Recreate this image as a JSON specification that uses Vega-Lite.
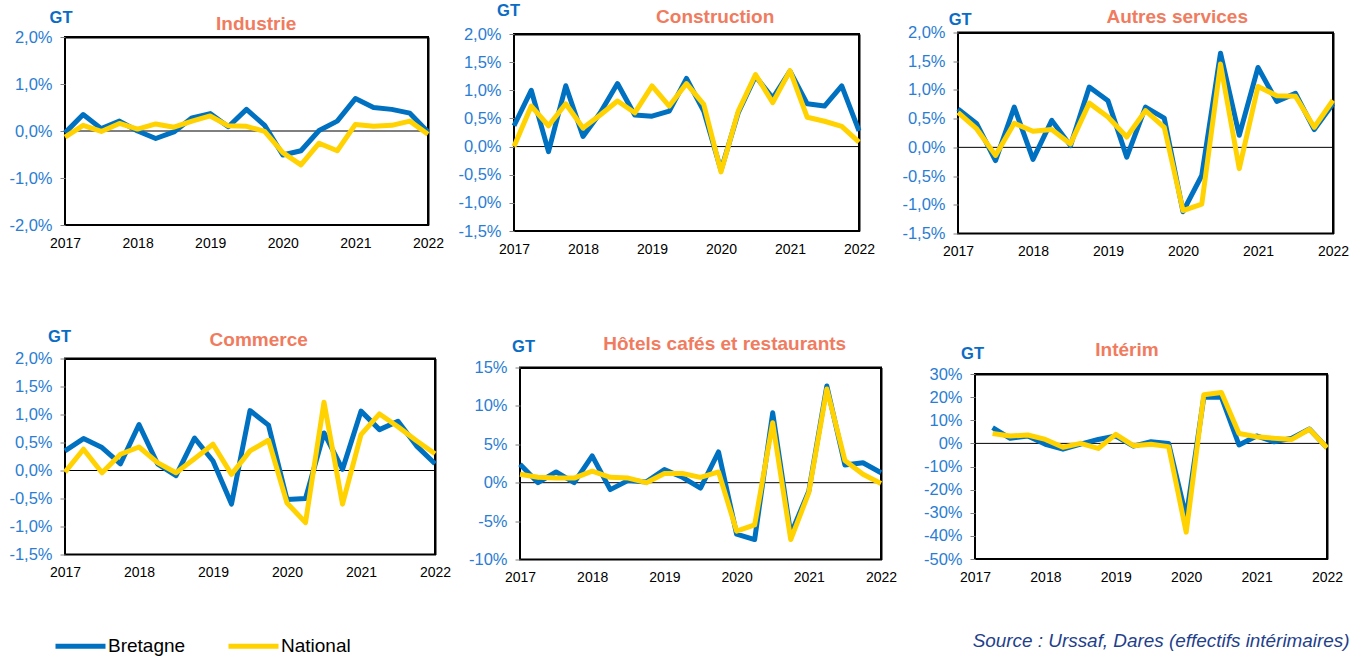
{
  "$schema": "https://vega.github.io/schema/vega-lite/v6.json",
  "autosize": {"type": "pad"},
  "padding": {"left": 6, "top": 1.5, "right": 0, "bottom": 0},
  "background": "white",
  "config": {
    "font": "Liberation Sans",
    "view": {"stroke": "black", "strokeWidth": 2},
    "axisLeft": {"labelFontSize": 16.5, "labelColor": "#2a7dd2", "labelFont": "Liberation Sans", "labelPadding": 8, "ticks": true, "tickSize": 5, "tickColor": "#808080", "domain": false, "grid": true, "gridColor": "#d4d4d4", "gridWidth": 1, "titleAngle": 0, "titleAlign": "center", "titleBaseline": "alphabetic", "titleFontSize": 16.5, "titleFontWeight": "bold", "titleColor": "#0a6cc4", "titleFont": "Liberation Sans"},
    "axisBottom": {"labelFontSize": 14, "labelColor": "black", "labelFont": "Liberation Sans", "labelPadding": 22, "labelBaseline": "alphabetic", "labelFlush": false, "ticks": false, "domain": false, "grid": true, "gridColor": "#a6a6a6", "gridWidth": 1},
    "axisTop": {"labels": false, "ticks": false, "grid": false, "domain": true, "domainColor": "black", "domainWidth": 2, "titleAngle": 0, "titleAlign": "center", "titleBaseline": "alphabetic", "titleFontSize": 19, "titleFontWeight": "bold", "titleColor": "#f07b5e", "titleFont": "Liberation Sans"},
    "axisRight": {"labels": false, "ticks": false, "grid": false, "domain": true, "domainColor": "black", "domainWidth": 2}
  },
  "datasets": {
    "ind": [
      {"t": 2017, "Bretagne": -0.04, "National": -0.13},
      {"t": 2017.25, "Bretagne": 0.35, "National": 0.12},
      {"t": 2017.5, "Bretagne": 0.05, "National": -0.01},
      {"t": 2017.75, "Bretagne": 0.21, "National": 0.16},
      {"t": 2018, "Bretagne": 0.0, "National": 0.04},
      {"t": 2018.25, "Bretagne": -0.16, "National": 0.15},
      {"t": 2018.5, "Bretagne": -0.02, "National": 0.08},
      {"t": 2018.75, "Bretagne": 0.28, "National": 0.21},
      {"t": 2019, "Bretagne": 0.37, "National": 0.32},
      {"t": 2019.25, "Bretagne": 0.09, "National": 0.11},
      {"t": 2019.5, "Bretagne": 0.46, "National": 0.10},
      {"t": 2019.75, "Bretagne": 0.12, "National": -0.01},
      {"t": 2020, "Bretagne": -0.51, "National": -0.46},
      {"t": 2020.25, "Bretagne": -0.42, "National": -0.72},
      {"t": 2020.5, "Bretagne": 0.01, "National": -0.26},
      {"t": 2020.75, "Bretagne": 0.21, "National": -0.42},
      {"t": 2021, "Bretagne": 0.69, "National": 0.14},
      {"t": 2021.25, "Bretagne": 0.50, "National": 0.10},
      {"t": 2021.5, "Bretagne": 0.46, "National": 0.12},
      {"t": 2021.75, "Bretagne": 0.38, "National": 0.21},
      {"t": 2022, "Bretagne": -0.02, "National": -0.07}
    ],
    "con": [
      {"t": 2017, "Bretagne": 0.37, "National": 0.0},
      {"t": 2017.25, "Bretagne": 1.00, "National": 0.72},
      {"t": 2017.5, "Bretagne": -0.09, "National": 0.37},
      {"t": 2017.75, "Bretagne": 1.08, "National": 0.76},
      {"t": 2018, "Bretagne": 0.18, "National": 0.33},
      {"t": 2018.25, "Bretagne": 0.60, "National": 0.56},
      {"t": 2018.5, "Bretagne": 1.12, "National": 0.81},
      {"t": 2018.75, "Bretagne": 0.56, "National": 0.60},
      {"t": 2019, "Bretagne": 0.54, "National": 1.08},
      {"t": 2019.25, "Bretagne": 0.63, "National": 0.72},
      {"t": 2019.5, "Bretagne": 1.21, "National": 1.12},
      {"t": 2019.75, "Bretagne": 0.63, "National": 0.75},
      {"t": 2020, "Bretagne": -0.42, "National": -0.45},
      {"t": 2020.25, "Bretagne": 0.60, "National": 0.63},
      {"t": 2020.5, "Bretagne": 1.25, "National": 1.28},
      {"t": 2020.75, "Bretagne": 0.86, "National": 0.78},
      {"t": 2021, "Bretagne": 1.34, "National": 1.35},
      {"t": 2021.25, "Bretagne": 0.76, "National": 0.52},
      {"t": 2021.5, "Bretagne": 0.72, "National": 0.45},
      {"t": 2021.75, "Bretagne": 1.08, "National": 0.36},
      {"t": 2022, "Bretagne": 0.28, "National": 0.08}
    ],
    "aut": [
      {"t": 2017, "Bretagne": 0.67, "National": 0.61},
      {"t": 2017.25, "Bretagne": 0.41, "National": 0.32},
      {"t": 2017.5, "Bretagne": -0.23, "National": -0.14},
      {"t": 2017.75, "Bretagne": 0.70, "National": 0.42},
      {"t": 2018, "Bretagne": -0.21, "National": 0.28},
      {"t": 2018.25, "Bretagne": 0.47, "National": 0.31},
      {"t": 2018.5, "Bretagne": 0.03, "National": 0.06},
      {"t": 2018.75, "Bretagne": 1.05, "National": 0.77},
      {"t": 2019, "Bretagne": 0.81, "National": 0.53},
      {"t": 2019.25, "Bretagne": -0.17, "National": 0.18},
      {"t": 2019.5, "Bretagne": 0.70, "National": 0.64},
      {"t": 2019.75, "Bretagne": 0.51, "National": 0.35},
      {"t": 2020, "Bretagne": -1.12, "National": -1.10},
      {"t": 2020.25, "Bretagne": -0.49, "National": -0.99},
      {"t": 2020.5, "Bretagne": 1.64, "National": 1.45},
      {"t": 2020.75, "Bretagne": 0.21, "National": -0.37},
      {"t": 2021, "Bretagne": 1.39, "National": 1.06},
      {"t": 2021.25, "Bretagne": 0.80, "National": 0.90},
      {"t": 2021.5, "Bretagne": 0.94, "National": 0.89},
      {"t": 2021.75, "Bretagne": 0.31, "National": 0.35},
      {"t": 2022, "Bretagne": 0.76, "National": 0.82}
    ],
    "com": [
      {"t": 2017, "Bretagne": 0.35, "National": -0.03},
      {"t": 2017.25, "Bretagne": 0.57, "National": 0.38},
      {"t": 2017.5, "Bretagne": 0.41, "National": -0.04},
      {"t": 2017.75, "Bretagne": 0.12, "National": 0.29},
      {"t": 2018, "Bretagne": 0.82, "National": 0.42},
      {"t": 2018.25, "Bretagne": 0.12, "National": 0.14},
      {"t": 2018.5, "Bretagne": -0.09, "National": -0.04},
      {"t": 2018.75, "Bretagne": 0.58, "National": 0.21},
      {"t": 2019, "Bretagne": 0.17, "National": 0.47},
      {"t": 2019.25, "Bretagne": -0.60, "National": -0.07},
      {"t": 2019.5, "Bretagne": 1.07, "National": 0.35},
      {"t": 2019.75, "Bretagne": 0.81, "National": 0.54},
      {"t": 2020, "Bretagne": -0.52, "National": -0.58},
      {"t": 2020.25, "Bretagne": -0.50, "National": -0.93},
      {"t": 2020.5, "Bretagne": 0.67, "National": 1.22},
      {"t": 2020.75, "Bretagne": 0.02, "National": -0.60},
      {"t": 2021, "Bretagne": 1.06, "National": 0.64},
      {"t": 2021.25, "Bretagne": 0.73, "National": 1.01},
      {"t": 2021.5, "Bretagne": 0.88, "National": 0.78},
      {"t": 2021.75, "Bretagne": 0.44, "National": 0.53},
      {"t": 2022, "Bretagne": 0.12, "National": 0.30}
    ],
    "hot": [
      {"t": 2017, "Bretagne": 2.4, "National": 1.1},
      {"t": 2017.25, "Bretagne": 0.0, "National": 0.7},
      {"t": 2017.5, "Bretagne": 1.4, "National": 0.6},
      {"t": 2017.75, "Bretagne": 0.0, "National": 0.6},
      {"t": 2018, "Bretagne": 3.5, "National": 1.5},
      {"t": 2018.25, "Bretagne": -0.9, "National": 0.7},
      {"t": 2018.5, "Bretagne": 0.3, "National": 0.6},
      {"t": 2018.75, "Bretagne": 0.1, "National": 0.0},
      {"t": 2019, "Bretagne": 1.7, "National": 1.2},
      {"t": 2019.25, "Bretagne": 0.7, "National": 1.2},
      {"t": 2019.5, "Bretagne": -0.7, "National": 0.7},
      {"t": 2019.75, "Bretagne": 4.0, "National": 1.4},
      {"t": 2020, "Bretagne": -6.7, "National": -6.3},
      {"t": 2020.25, "Bretagne": -7.4, "National": -5.5},
      {"t": 2020.5, "Bretagne": 9.1, "National": 7.8},
      {"t": 2020.75, "Bretagne": -6.7, "National": -7.4},
      {"t": 2021, "Bretagne": -1.1, "National": -1.3},
      {"t": 2021.25, "Bretagne": 12.6, "National": 12.2},
      {"t": 2021.5, "Bretagne": 2.3, "National": 2.9},
      {"t": 2021.75, "Bretagne": 2.6, "National": 1.1},
      {"t": 2022, "Bretagne": 1.3, "National": -0.1}
    ],
    "int": [
      {"t": 2017.25, "Bretagne": 6.8, "National": 4.3},
      {"t": 2017.5, "Bretagne": 2.2, "National": 3.2},
      {"t": 2017.75, "Bretagne": 3.2, "National": 3.6},
      {"t": 2018, "Bretagne": -0.4, "National": 1.7},
      {"t": 2018.25, "Bretagne": -2.5, "National": -1.7},
      {"t": 2018.5, "Bretagne": -0.3, "National": 0.0},
      {"t": 2018.75, "Bretagne": 1.7, "National": -2.2},
      {"t": 2019, "Bretagne": 3.2, "National": 3.9},
      {"t": 2019.25, "Bretagne": -1.2, "National": -1.0},
      {"t": 2019.5, "Bretagne": 0.7, "National": -0.4},
      {"t": 2019.75, "Bretagne": 0.0, "National": -1.4},
      {"t": 2020, "Bretagne": -31.9, "National": -38.4},
      {"t": 2020.25, "Bretagne": 20.0, "National": 21.0},
      {"t": 2020.5, "Bretagne": 20.0, "National": 22.0},
      {"t": 2020.75, "Bretagne": -0.7, "National": 4.3},
      {"t": 2021, "Bretagne": 3.2, "National": 2.9},
      {"t": 2021.25, "Bretagne": 0.7, "National": 2.2},
      {"t": 2021.5, "Bretagne": 2.2, "National": 1.7},
      {"t": 2021.75, "Bretagne": 6.2, "National": 6.1},
      {"t": 2022, "Bretagne": -1.9, "National": -1.9}
    ]
  },
  "title": {"text": "Source : Urssaf, Dares (effectifs intérimaires)", "orient": "bottom", "anchor": "end", "fontSize": 18.9, "fontStyle": "italic", "fontWeight": "normal", "color": "#1f3f8c", "font": "Liberation Sans", "offset": -10, "baseline": "alphabetic"},
  "spacing": 63,
  "vconcat": [
    {
      "concat": [
        {
          "width": 363, "height": 188,
          "layer": [
            {
              "data": {"values": [{}]},
              "mark": {"type": "rule", "color": "black", "strokeWidth": 1},
              "encoding": {
                "x": {"datum": 2017, "type": "quantitative", "scale": {"domain": [2017, 2022], "nice": false, "zero": false}, "axis": {"orient": "top", "title": "Industrie", "titleX": 190.7, "titleY": -7.7}},
                "x2": {"datum": 2022},
                "y": {"datum": 0, "type": "quantitative", "scale": {"domain": [-2, 2], "nice": false, "zero": false}, "axis": {"orient": "right", "title": null, "minExtent": 20, "maxExtent": 20}}
              }
            },
            {
              "data": {"name": "ind"},
              "transform": [{"fold": ["Bretagne", "National"], "as": ["serie", "v"]}],
              "mark": {"type": "line", "strokeWidth": 5, "strokeJoin": "round"},
              "encoding": {
                "x": {"field": "t", "type": "quantitative", "scale": {"domain": [2017, 2022], "nice": false, "zero": false}, "axis": {"orient": "bottom", "title": null, "values": [2017, 2018, 2019, 2020, 2021, 2022], "format": "d", "labelFlush": false, "minExtent": 34, "gridOpacity": {"condition": {"test": "datum.value <= 2017 || datum.value >= 2022", "value": 0}, "value": 1}}},
                "y": {"field": "v", "type": "quantitative", "scale": {"domain": [-2, 2], "nice": false, "zero": false}, "axis": {"orient": "left", "title": "GT", "titleX": -4.5, "titleY": -15, "values": [-2, -1, 0, 1, 2], "labelExpr": "(datum.value < 0 ? '-' : '') + replace(format(abs(datum.value), '.1f'), '.', ',') + '%'", "minExtent": 58, "maxExtent": 58, "gridOpacity": {"condition": {"test": "datum.value >= 2 || datum.value <= -2", "value": 0}, "value": 1}}},
                "color": {"field": "serie", "type": "nominal", "scale": {"domain": ["Bretagne", "National"], "range": ["#0070C0", "#FFD200"]}, "legend": {"orient": "none", "legendX": -12, "legendY": 586, "direction": "horizontal", "title": null, "symbolType": "stroke", "symbolSize": 2500, "symbolStrokeWidth": 5, "labelFontSize": 19, "labelFont": "Liberation Sans", "labelColor": "black", "columnPadding": 32, "labelOffset": 0, "padding": 0}}
              }
            }
          ],
          "resolve": {"axis": {"x": "independent", "y": "independent"}}
        },
        {
          "width": 345, "height": 197,
          "layer": [
            {
              "data": {"values": [{}]},
              "mark": {"type": "rule", "color": "black", "strokeWidth": 1},
              "encoding": {
                "x": {"datum": 2017, "type": "quantitative", "scale": {"domain": [2017, 2022], "nice": false, "zero": false}, "axis": {"orient": "top", "title": "Construction", "titleX": 200.7, "titleY": -12}},
                "x2": {"datum": 2022},
                "y": {"datum": 0, "type": "quantitative", "scale": {"domain": [-1.5, 2], "nice": false, "zero": false}, "axis": {"orient": "right", "title": null, "minExtent": 20, "maxExtent": 20}}
              }
            },
            {
              "data": {"name": "con"},
              "transform": [{"fold": ["Bretagne", "National"], "as": ["serie", "v"]}],
              "mark": {"type": "line", "strokeWidth": 5, "strokeJoin": "round"},
              "encoding": {
                "x": {"field": "t", "type": "quantitative", "scale": {"domain": [2017, 2022], "nice": false, "zero": false}, "axis": {"orient": "bottom", "title": null, "values": [2017, 2018, 2019, 2020, 2021, 2022], "format": "d", "labelFlush": false, "minExtent": 31, "gridOpacity": {"condition": {"test": "datum.value <= 2017 || datum.value >= 2022", "value": 0}, "value": 1}}},
                "y": {"field": "v", "type": "quantitative", "scale": {"domain": [-1.5, 2], "nice": false, "zero": false}, "axis": {"orient": "left", "title": "GT", "titleX": -6, "titleY": -18.3, "values": [-1.5, -1, -0.5, 0, 0.5, 1, 1.5, 2], "labelExpr": "(datum.value < 0 ? '-' : '') + replace(format(abs(datum.value), '.1f'), '.', ',') + '%'", "minExtent": 64, "maxExtent": 64, "gridOpacity": {"condition": {"test": "datum.value >= 2 || datum.value <= -1.5", "value": 0}, "value": 1}}},
                "color": {"field": "serie", "type": "nominal", "scale": {"domain": ["Bretagne", "National"], "range": ["#0070C0", "#FFD200"]}, "legend": {"orient": "none", "legendX": -12, "legendY": 586, "direction": "horizontal", "title": null, "symbolType": "stroke", "symbolSize": 2500, "symbolStrokeWidth": 5, "labelFontSize": 19, "labelFont": "Liberation Sans", "labelColor": "black", "columnPadding": 32, "labelOffset": 0, "padding": 0}}
              }
            }
          ],
          "resolve": {"axis": {"x": "independent", "y": "independent"}}
        },
        {
          "width": 375, "height": 201,
          "layer": [
            {
              "data": {"values": [{}]},
              "mark": {"type": "rule", "color": "black", "strokeWidth": 1},
              "encoding": {
                "x": {"datum": 2017, "type": "quantitative", "scale": {"domain": [2017, 2022], "nice": false, "zero": false}, "axis": {"orient": "top", "title": "Autres services", "titleX": 218.7, "titleY": -10.3}},
                "x2": {"datum": 2022},
                "y": {"datum": 0, "type": "quantitative", "scale": {"domain": [-1.5, 2], "nice": false, "zero": false}, "axis": {"orient": "right", "title": null, "minExtent": 14, "maxExtent": 14}}
              }
            },
            {
              "data": {"name": "aut"},
              "transform": [{"fold": ["Bretagne", "National"], "as": ["serie", "v"]}],
              "mark": {"type": "line", "strokeWidth": 5, "strokeJoin": "round"},
              "encoding": {
                "x": {"field": "t", "type": "quantitative", "scale": {"domain": [2017, 2022], "nice": false, "zero": false}, "axis": {"orient": "bottom", "title": null, "values": [2017, 2018, 2019, 2020, 2021, 2022], "format": "d", "labelFlush": false, "minExtent": 30, "gridOpacity": {"condition": {"test": "datum.value <= 2017 || datum.value >= 2022", "value": 0}, "value": 1}}},
                "y": {"field": "v", "type": "quantitative", "scale": {"domain": [-1.5, 2], "nice": false, "zero": false}, "axis": {"orient": "left", "title": "GT", "titleX": 1.7, "titleY": -8.3, "values": [-1.5, -1, -0.5, 0, 0.5, 1, 1.5, 2], "labelExpr": "(datum.value < 0 ? '-' : '') + replace(format(abs(datum.value), '.1f'), '.', ',') + '%'", "minExtent": 77, "maxExtent": 77, "gridOpacity": {"condition": {"test": "datum.value >= 2 || datum.value <= -1.5", "value": 0}, "value": 1}}},
                "color": {"field": "serie", "type": "nominal", "scale": {"domain": ["Bretagne", "National"], "range": ["#0070C0", "#FFD200"]}, "legend": {"orient": "none", "legendX": -12, "legendY": 586, "direction": "horizontal", "title": null, "symbolType": "stroke", "symbolSize": 2500, "symbolStrokeWidth": 5, "labelFontSize": 19, "labelFont": "Liberation Sans", "labelColor": "black", "columnPadding": 32, "labelOffset": 0, "padding": 0}}
              }
            }
          ],
          "resolve": {"axis": {"x": "independent", "y": "independent"}}
        }
      ],
      "columns": 3,
      "align": "each",
      "center": true,
      "spacing": 0
    },
    {
      "concat": [
        {
          "width": 370, "height": 196,
          "layer": [
            {
              "data": {"values": [{}]},
              "mark": {"type": "rule", "color": "black", "strokeWidth": 1},
              "encoding": {
                "x": {"datum": 2017, "type": "quantitative", "scale": {"domain": [2017, 2022], "nice": false, "zero": false}, "axis": {"orient": "top", "title": "Commerce", "titleX": 193.2, "titleY": -12.7}},
                "x2": {"datum": 2022},
                "y": {"datum": 0, "type": "quantitative", "scale": {"domain": [-1.5, 2], "nice": false, "zero": false}, "axis": {"orient": "right", "title": null, "minExtent": 20, "maxExtent": 20}}
              }
            },
            {
              "data": {"name": "com"},
              "transform": [{"fold": ["Bretagne", "National"], "as": ["serie", "v"]}],
              "mark": {"type": "line", "strokeWidth": 5, "strokeJoin": "round"},
              "encoding": {
                "x": {"field": "t", "type": "quantitative", "scale": {"domain": [2017, 2022], "nice": false, "zero": false}, "axis": {"orient": "bottom", "title": null, "values": [2017, 2018, 2019, 2020, 2021, 2022], "format": "d", "labelFlush": false, "minExtent": 50, "gridOpacity": {"condition": {"test": "datum.value <= 2017 || datum.value >= 2022", "value": 0}, "value": 1}}},
                "y": {"field": "v", "type": "quantitative", "scale": {"domain": [-1.5, 2], "nice": false, "zero": false}, "axis": {"orient": "left", "title": "GT", "titleX": -6, "titleY": -16.7, "values": [-1.5, -1, -0.5, 0, 0.5, 1, 1.5, 2], "labelExpr": "(datum.value < 0 ? '-' : '') + replace(format(abs(datum.value), '.1f'), '.', ',') + '%'", "minExtent": 58, "maxExtent": 58, "gridOpacity": {"condition": {"test": "datum.value >= 2 || datum.value <= -1.5", "value": 0}, "value": 1}}},
                "color": {"field": "serie", "type": "nominal", "scale": {"domain": ["Bretagne", "National"], "range": ["#0070C0", "#FFD200"]}, "legend": {"orient": "none", "legendX": -12, "legendY": 586, "direction": "horizontal", "title": null, "symbolType": "stroke", "symbolSize": 2500, "symbolStrokeWidth": 5, "labelFontSize": 19, "labelFont": "Liberation Sans", "labelColor": "black", "columnPadding": 32, "labelOffset": 0, "padding": 0}}
              }
            }
          ],
          "resolve": {"axis": {"x": "independent", "y": "independent"}}
        },
        {
          "width": 361, "height": 192,
          "layer": [
            {
              "data": {"values": [{}]},
              "mark": {"type": "rule", "color": "black", "strokeWidth": 1},
              "encoding": {
                "x": {"datum": 2017, "type": "quantitative", "scale": {"domain": [2017, 2022], "nice": false, "zero": false}, "axis": {"orient": "top", "title": "Hôtels cafés et restaurants", "titleX": 204.2, "titleY": -17.7}},
                "x2": {"datum": 2022},
                "y": {"datum": 0, "type": "quantitative", "scale": {"domain": [-10, 15], "nice": false, "zero": false}, "axis": {"orient": "right", "title": null, "minExtent": 20, "maxExtent": 20}}
              }
            },
            {
              "data": {"name": "hot"},
              "transform": [{"fold": ["Bretagne", "National"], "as": ["serie", "v"]}],
              "mark": {"type": "line", "strokeWidth": 5, "strokeJoin": "round"},
              "encoding": {
                "x": {"field": "t", "type": "quantitative", "scale": {"domain": [2017, 2022], "nice": false, "zero": false}, "axis": {"orient": "bottom", "title": null, "values": [2017, 2018, 2019, 2020, 2021, 2022], "format": "d", "labelFlush": false, "minExtent": 36, "gridOpacity": {"condition": {"test": "datum.value <= 2017 || datum.value >= 2022", "value": 0}, "value": 1}}},
                "y": {"field": "v", "type": "quantitative", "scale": {"domain": [-10, 15], "nice": false, "zero": false}, "axis": {"orient": "left", "title": "GT", "titleX": 3, "titleY": -15.7, "values": [-10, -5, 0, 5, 10, 15], "labelExpr": "datum.value + '%'", "minExtent": 63, "maxExtent": 63, "gridOpacity": {"condition": {"test": "datum.value >= 15 || datum.value <= -10", "value": 0}, "value": 1}}},
                "color": {"field": "serie", "type": "nominal", "scale": {"domain": ["Bretagne", "National"], "range": ["#0070C0", "#FFD200"]}, "legend": {"orient": "none", "legendX": -12, "legendY": 586, "direction": "horizontal", "title": null, "symbolType": "stroke", "symbolSize": 2500, "symbolStrokeWidth": 5, "labelFontSize": 19, "labelFont": "Liberation Sans", "labelColor": "black", "columnPadding": 32, "labelOffset": 0, "padding": 0}}
              }
            }
          ],
          "resolve": {"axis": {"x": "independent", "y": "independent"}}
        },
        {
          "width": 352, "height": 185,
          "layer": [
            {
              "data": {"values": [{}]},
              "mark": {"type": "rule", "color": "black", "strokeWidth": 1},
              "encoding": {
                "x": {"datum": 2017, "type": "quantitative", "scale": {"domain": [2017, 2022], "nice": false, "zero": false}, "axis": {"orient": "top", "title": "Intérim", "titleX": 151.5, "titleY": -18.3}},
                "x2": {"datum": 2022},
                "y": {"datum": 0, "type": "quantitative", "scale": {"domain": [-50, 30], "nice": false, "zero": false}, "axis": {"orient": "right", "title": null, "minExtent": 14, "maxExtent": 14}}
              }
            },
            {
              "data": {"name": "int"},
              "transform": [{"fold": ["Bretagne", "National"], "as": ["serie", "v"]}],
              "mark": {"type": "line", "strokeWidth": 5, "strokeJoin": "round"},
              "encoding": {
                "x": {"field": "t", "type": "quantitative", "scale": {"domain": [2017, 2022], "nice": false, "zero": false}, "axis": {"orient": "bottom", "title": null, "values": [2017, 2018, 2019, 2020, 2021, 2022], "format": "d", "labelFlush": false, "minExtent": 30, "gridOpacity": {"condition": {"test": "datum.value <= 2017 || datum.value >= 2022", "value": 0}, "value": 1}}},
                "y": {"field": "v", "type": "quantitative", "scale": {"domain": [-50, 30], "nice": false, "zero": false}, "axis": {"orient": "left", "title": "GT", "titleX": -3, "titleY": -15.6, "values": [-50, -40, -30, -20, -10, 0, 10, 20, 30], "labelExpr": "datum.value + '%'", "minExtent": 72, "maxExtent": 72, "gridOpacity": {"condition": {"test": "datum.value >= 30 || datum.value <= -50", "value": 0}, "value": 1}}},
                "color": {"field": "serie", "type": "nominal", "scale": {"domain": ["Bretagne", "National"], "range": ["#0070C0", "#FFD200"]}, "legend": {"orient": "none", "legendX": -12, "legendY": 586, "direction": "horizontal", "title": null, "symbolType": "stroke", "symbolSize": 2500, "symbolStrokeWidth": 5, "labelFontSize": 19, "labelFont": "Liberation Sans", "labelColor": "black", "columnPadding": 32, "labelOffset": 0, "padding": 0}}
              }
            }
          ],
          "resolve": {"axis": {"x": "independent", "y": "independent"}}
        }
      ],
      "columns": 3,
      "align": "each",
      "center": true,
      "spacing": 0
    }
  ]
}
